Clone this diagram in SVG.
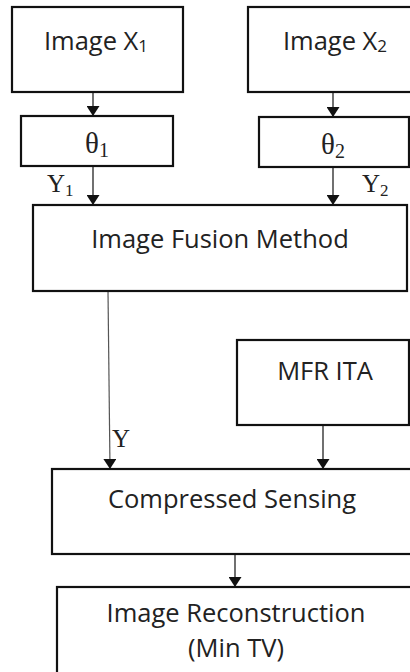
<svg xmlns="http://www.w3.org/2000/svg" width="410" height="672" viewBox="0 0 410 672">
  <style>
    .box { fill: #ffffff; stroke: #111111; stroke-width: 2.2; }
    .lbl { font-family: "Open Sans", "Liberation Sans", sans-serif; font-size: 25.5px; fill: #222222; text-anchor: middle; }
    .math { font-family: "Liberation Serif", "DejaVu Serif", serif; font-size: 25px; fill: #222222; }
    .theta { font-size: 29px; }
    .sub { font-size: 17px; }
    .tsub { font-size: 20px; }
    .wire { fill: none; stroke: #111111; stroke-width: 1.2; }
    .thin { stroke: #555555; }
  </style>
  <defs>
    <marker id="arrow" viewBox="0 0 10 13" refX="10" refY="6.5" markerWidth="10" markerHeight="13" markerUnits="userSpaceOnUse" orient="auto">
      <path d="M0,0 L10,6.5 L0,13 z" fill="#111111"/>
    </marker>
  </defs>
  <rect width="410" height="672" fill="#ffffff"/>

  <g id="connectors">
    <line class="wire" x1="93" y1="92" x2="93" y2="116" marker-end="url(#arrow)"/>
    <line class="wire" x1="333" y1="92" x2="333" y2="117" marker-end="url(#arrow)"/>
    <line class="wire" x1="93" y1="166" x2="93" y2="205" marker-end="url(#arrow)"/>
    <line class="wire" x1="333" y1="167" x2="333" y2="205" marker-end="url(#arrow)"/>
    <line class="wire thin" x1="108" y1="291" x2="110" y2="469" marker-end="url(#arrow)"/>
    <line class="wire" x1="323" y1="425" x2="323" y2="469" marker-end="url(#arrow)"/>
    <line class="wire" x1="235" y1="554" x2="235" y2="587" marker-end="url(#arrow)"/>
    <text class="math" x="47" y="192">Y<tspan class="sub" dy="4">1</tspan></text>
    <text class="math" x="362" y="192">Y<tspan class="sub" dy="4">2</tspan></text>
    <text class="math" x="112" y="447">Y</text>
  </g>

  <g id="image-x1">
    <rect class="box" x="12" y="7" width="171" height="85"/>
    <text class="lbl" x="96" y="50">Image X<tspan class="sub" dy="2">1</tspan></text>
  </g>

  <g id="image-x2">
    <rect class="box" x="248" y="7" width="172" height="85"/>
    <text class="lbl" x="335" y="50">Image X<tspan class="sub" dy="2">2</tspan></text>
  </g>

  <g id="theta1">
    <rect class="box" x="21" y="116" width="152" height="50"/>
    <text class="math theta" x="97" y="153" text-anchor="middle">θ<tspan class="tsub" dy="4">1</tspan></text>
  </g>

  <g id="theta2">
    <rect class="box" x="259" y="117" width="150" height="50"/>
    <text class="math theta" x="333" y="154" text-anchor="middle">θ<tspan class="tsub" dy="4">2</tspan></text>
  </g>

  <g id="fusion">
    <rect class="box" x="33" y="205" width="374" height="86"/>
    <text class="lbl" x="220" y="248">Image Fusion Method</text>
  </g>

  <g id="mfr-ita">
    <rect class="box" x="237" y="340" width="172" height="85"/>
    <text class="lbl" x="325" y="380">MFR ITA</text>
  </g>

  <g id="compressed-sensing">
    <rect class="box" x="52" y="469" width="372" height="85"/>
    <text class="lbl" x="232" y="508">Compressed Sensing</text>
  </g>

  <g id="reconstruction">
    <rect class="box" x="57" y="587" width="372" height="100"/>
    <text class="lbl" x="236" y="622">Image Reconstruction</text>
    <text class="lbl" x="236" y="657">(Min TV)</text>
  </g>
</svg>
